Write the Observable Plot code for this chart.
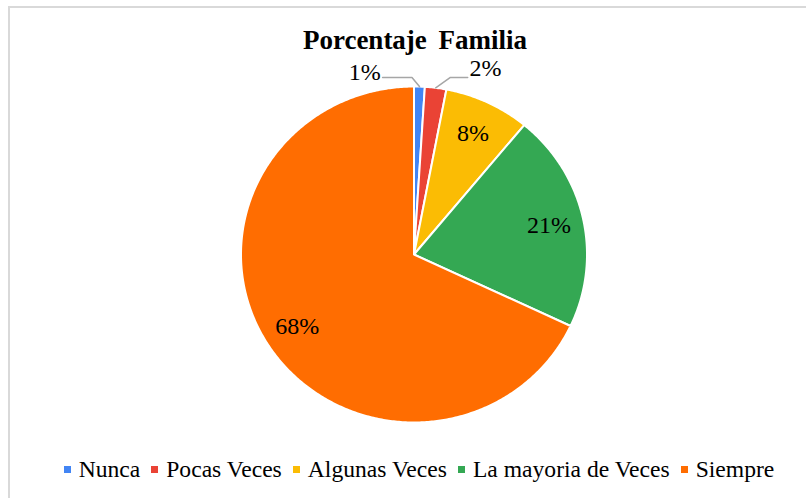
<!DOCTYPE html>
<html>
<head>
<meta charset="utf-8">
<script src="https://cdn.jsdelivr.net/npm/d3@7"></script>
<script src="https://cdn.jsdelivr.net/npm/@observablehq/plot@0.6"></script>
<style>
html,body{margin:0;padding:0;background:#fff;overflow:hidden;width:806px;height:498px;}
#frame{position:absolute;left:8px;top:6px;width:900px;height:600px;border-left:2px solid #d9d9d9;border-top:2px solid #d9d9d9;box-sizing:border-box;}
.serif{font-family:"Liberation Serif","Times New Roman",Times,"DejaVu Serif",serif;}
#title{position:absolute;left:15px;width:800px;top:25px;line-height:30px;text-align:center;font-weight:bold;font-size:27px;word-spacing:5px;color:#000;}
#chart{position:absolute;left:0;top:50px;}
#legend{position:absolute;left:0;width:838px;top:455px;height:28px;display:flex;justify-content:center;align-items:center;font-size:23.6px;line-height:28px;color:#000;white-space:nowrap;}
#legend .item{display:flex;align-items:center;margin-right:11px;}
#legend .item:last-child{margin-right:0;}
#legend .sw{width:7px;height:7px;margin-right:8px;margin-top:1px;}
</style>
</head>
<body>
<div id="frame"></div>
<div id="title" class="serif">Porcentaje Familia</div>
<div id="chart"></div>
<div id="legend" class="serif"></div>
<script>
// ---- data ----
const categories = ["Nunca", "Pocas Veces", "Algunas Veces", "La mayoria de Veces", "Siempre"];
const values = [1, 2, 8, 21, 68];
const colors = ["#4285F4", "#EA4335", "#FBBC04", "#34A853", "#FF6D01"];
const labels = ["1%", "2%", "8%", "21%", "68%"];

// ---- layout (styling only) ----
const FONT = '"Liberation Serif","Times New Roman",Times,"DejaVu Serif",serif';
const W = 806, H = 400;
const cx = 413.5, cy = 204, rx = 173, ry = 168;
const insideR = 0.8;
// leader-line layout for small slices: elbow shift (dx), elbow height (ey), tail length (len), label dy
const leaders = {
  "Nunca": {dx: -0.043, ey: 1.054, len: -0.17, ldy: 3},
  "Pocas Veces": {dx: 0.085, ey: 1.054, len: 0.10, ldy: -1}
};

const pie = d3.pie().sort(null).value(d => d.value)(
  categories.map((c, i) => ({name: c, value: values[i], color: colors[i], label: labels[i]}))
);

const slicePts = [];
for (const p of pie) {
  const n = Math.max(2, Math.ceil((p.endAngle - p.startAngle) / 0.01));
  slicePts.push({name: p.data.name, x: 0, y: 0});
  for (let k = 0; k <= n; k++) {
    const a = p.startAngle + (p.endAngle - p.startAngle) * k / n;
    slicePts.push({name: p.data.name, x: Math.sin(a), y: Math.cos(a)});
  }
  slicePts.push({name: p.data.name, x: 0, y: 0});
}

const inside = [], outLeft = [], outRight = [], leaderPts = [];
for (const p of pie) {
  const mid = (p.startAngle + p.endAngle) / 2;
  const L = leaders[p.data.name];
  if (L) {
    const sx = Math.sin(mid), sy = Math.cos(mid);
    const ex = sx + L.dx, ey = L.ey;
    const tx = ex + L.len;
    leaderPts.push({name: p.data.name, x: sx, y: sy});
    leaderPts.push({name: p.data.name, x: ex, y: ey});
    leaderPts.push({name: p.data.name, x: tx, y: ey});
    const rec = {x: tx + (L.len < 0 ? -0.01 : 0.01), y: ey, text: p.data.label, ldy: L.ldy};
    (L.len < 0 ? outLeft : outRight).push(rec);
  } else {
    inside.push({x: insideR * Math.sin(mid), y: insideR * Math.cos(mid), text: p.data.label});
  }
}

const plot = Plot.plot({
  width: W, height: H,
  margin: 0,
  x: {domain: [-1, 1], range: [cx - rx, cx + rx], axis: null},
  y: {domain: [-1, 1], range: [cy + ry, cy - ry], axis: null},
  color: {domain: categories, range: colors},
  style: {fontFamily: FONT, background: "transparent", overflow: "visible"},
  marks: [
    Plot.line(slicePts, {x: "x", y: "y", z: "name", fill: "name", stroke: "#fff", strokeWidth: 2, strokeLinejoin: "round", curve: "linear"}),
    Plot.line(leaderPts, {x: "x", y: "y", z: "name", stroke: "#a6a6a6", strokeWidth: 1.5}),
    Plot.text(inside, {x: "x", y: "y", text: "text", fontSize: 24, fill: "#000", fontFamily: FONT}),
    Plot.text(outLeft, {x: "x", y: "y", text: "text", textAnchor: "end", fontSize: 24, fill: "#000", fontFamily: FONT, lineAnchor: "bottom", dy: 3}),
    Plot.text(outRight, {x: "x", y: "y", text: "text", textAnchor: "start", fontSize: 24, fill: "#000", fontFamily: FONT, lineAnchor: "bottom", dy: -1})
  ]
});
document.getElementById("chart").appendChild(plot);

const legend = document.getElementById("legend");
categories.forEach((c, i) => {
  const it = document.createElement("div");
  it.className = "item";
  const sw = document.createElement("div");
  sw.className = "sw";
  sw.style.background = colors[i];
  const t = document.createElement("span");
  t.textContent = c;
  it.appendChild(sw); it.appendChild(t);
  legend.appendChild(it);
});
</script>
</body>
</html>
